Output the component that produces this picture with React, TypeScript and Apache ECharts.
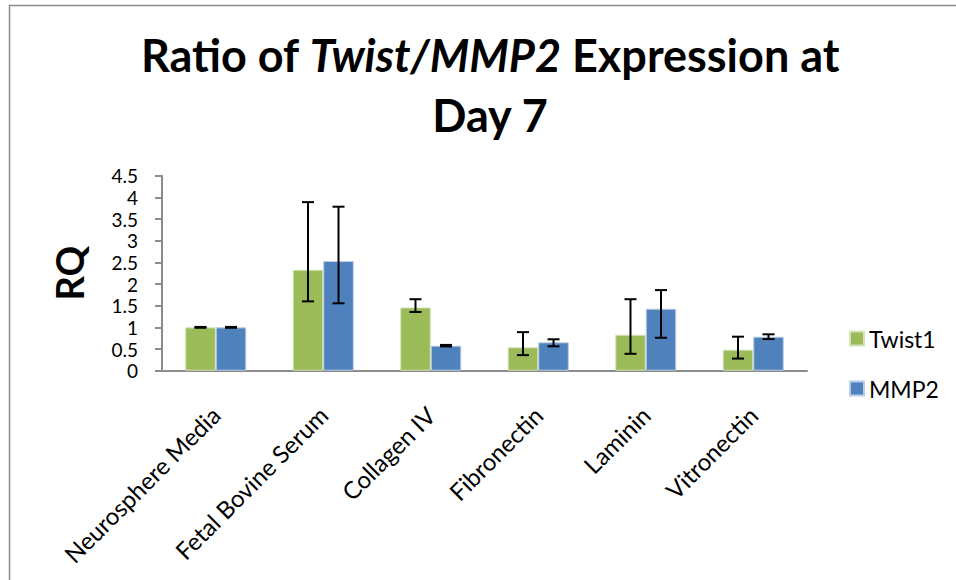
import React, { useEffect, useRef } from "react";
import * as echarts from "echarts";

const categories = [
  "Neurosphere Media",
  "Fetal Bovine Serum",
  "Collagen IV",
  "Fibronectin",
  "Laminin",
  "Vitronectin",
];
const seriesNames = ["Twist1", "MMP2"];
const twistValues = [1.0, 2.33, 1.46, 0.54, 0.83, 0.485];
const twistLow = [0.99, 1.6, 1.355, 0.36, 0.39, 0.28];
const twistHigh = [1.01, 3.89, 1.65, 0.89, 1.65, 0.785];
const mmpValues = [1.0, 2.53, 0.577, 0.655, 1.43, 0.785];
const mmpLow = [0.99, 1.555, 0.56, 0.563, 0.76, 0.73];
const mmpHigh = [1.01, 3.785, 0.595, 0.725, 1.86, 0.84];
const yTicks = { min: 0, max: 4.5, interval: 0.5 };
const colors = ["#9BBB59", "#4F81BD"];

const BAR_FRAC = 0.284;
const FONT = "Lato, 'Open Sans', sans-serif";

function errorSeries(low: number[], high: number[], side: number) {
  return {
    type: "custom",
    name: "err" + side,
    silent: true,
    z: 10,
    data: low.map((l, i) => [i, l, high[i]]),
    encode: { x: 0, y: [1, 2] },
    renderItem: (params: any, api: any) => {
      const i = api.value(0);
      const lo = api.coord([i, api.value(1)]);
      const hi = api.coord([i, api.value(2)]);
      const band = api.size([1, 0])[0];
      const bw = band * BAR_FRAC;
      const x = lo[0] + side * (bw / 2);
      const cap = 6;
      const style = { stroke: "#000", lineWidth: 2, fill: "none" };
      return {
        type: "group",
        children: [
          { type: "line", shape: { x1: x, y1: lo[1], x2: x, y2: hi[1] }, style },
          { type: "line", shape: { x1: x - cap, y1: lo[1], x2: x + cap, y2: lo[1] }, style },
          { type: "line", shape: { x1: x - cap, y1: hi[1], x2: x + cap, y2: hi[1] }, style },
        ],
      };
    },
  };
}

export default function App() {
  const ref = useRef<HTMLDivElement>(null);
  useEffect(() => {
    document.body.style.margin = "0";
    const chart = echarts.init(ref.current!, null, { renderer: "svg" });
    chart.setOption({
      animation: false,
      backgroundColor: "#ffffff",
      graphic: [
        {
          type: "rect",
          shape: { x: 9.5, y: 5.5, width: 1200, height: 1200 },
          style: { fill: "none", stroke: "#8c8c8c", lineWidth: 1.5 },
          silent: true,
        },
        {
          type: "text",
          x: 490,
          y: 25,
          style: {
            text: "Ratio of {i|Twist/MMP2} Expression at\nDay 7",
            align: "center",
            verticalAlign: "top",
            fontFamily: FONT,
            fontWeight: "bold",
            fontSize: 45,
            lineHeight: 60,
            fill: "#000",
            rich: {
              i: {
                fontFamily: FONT,
                fontWeight: "bold",
                fontStyle: "italic",
                fontSize: 45,
                lineHeight: 60,
                fill: "#000",
              },
            },
          },
        },
      ],
      legend: {
        orient: "vertical",
        left: 849,
        top: 327,
        padding: 0,
        itemWidth: 14,
        itemHeight: 14,
        itemGap: 27,
        icon: "rect",
        data: seriesNames,
        textStyle: { fontFamily: FONT, fontSize: 23, color: "#000" },
      },
      grid: { left: 162, right: 149, top: 175.7, bottom: 209.3, containLabel: false },
      xAxis: {
        type: "category",
        data: categories,
        axisLine: { lineStyle: { color: "#8c8c8c", width: 2 } },
        axisTick: { alignWithLabel: false, length: 7, lineStyle: { color: "#8c8c8c", width: 2 } },
        axisLabel: {
          interval: 0,
          rotate: 45,
          margin: 40,
          fontFamily: FONT,
          fontSize: 24,
          color: "#000",
        },
      },
      yAxis: {
        type: "value",
        min: yTicks.min,
        max: yTicks.max,
        interval: yTicks.interval,
        name: "RQ",
        nameLocation: "middle",
        nameGap: 74,
        nameTextStyle: { fontFamily: FONT, fontWeight: "bold", fontSize: 38, color: "#000" },
        splitLine: { show: false },
        axisLine: { show: true, lineStyle: { color: "#8c8c8c", width: 2 } },
        axisTick: { show: true, length: 7, lineStyle: { color: "#8c8c8c", width: 2 } },
        axisLabel: {
          margin: 24,
          showMinLabel: true,
          showMaxLabel: true,
          hideOverlap: false,
          fontFamily: FONT,
          fontSize: 19,
          lineHeight: 19,
          color: "#000",
        },
      },
      series: [
        {
          type: "bar",
          name: seriesNames[0],
          data: twistValues,
          barWidth: BAR_FRAC * 100 + "%",
          barGap: "0%",
          itemStyle: { color: colors[0], borderColor: "#d6e3bc", borderWidth: 1 },
        },
        {
          type: "bar",
          name: seriesNames[1],
          data: mmpValues,
          barWidth: BAR_FRAC * 100 + "%",
          barGap: "0%",
          itemStyle: { color: colors[1], borderColor: "#b9cde5", borderWidth: 1 },
        },
        errorSeries(twistLow, twistHigh, -1),
        errorSeries(mmpLow, mmpHigh, 1),
      ],
    });
    return () => chart.dispose();
  }, []);
  return <div ref={ref} style={{ width: 956, height: 580 }} />;
}
